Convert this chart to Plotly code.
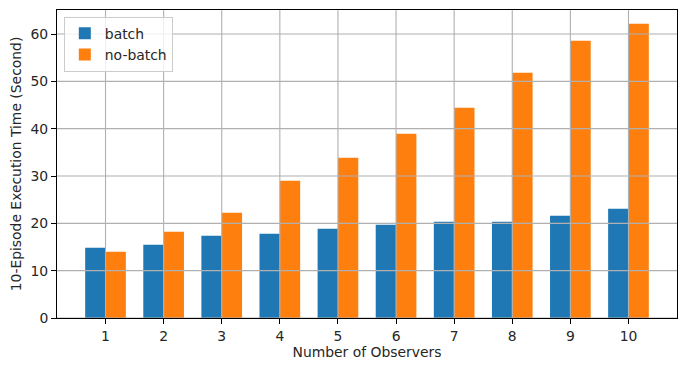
import plotly.graph_objects as go

observers = [1, 2, 3, 4, 5, 6, 7, 8, 9, 10]
batch = [14.86, 15.49, 17.39, 17.82, 18.87, 19.72, 20.35, 20.35, 21.62, 23.10]
no_batch = [14.01, 18.24, 22.25, 29.01, 33.87, 38.94, 44.44, 51.83, 58.59, 62.18]
y_ticks = [0, 10, 20, 30, 40, 50, 60]

font = dict(family="DejaVu Sans", size=13.9, color="#262626")

fig = go.Figure()
fig.add_trace(go.Bar(x=observers, y=batch, name="batch", marker=dict(color="#1f77b4", line_width=0)))
fig.add_trace(go.Bar(x=observers, y=no_batch, name="no-batch", marker=dict(color="#ff7f0e", line_width=0)))

grid = dict(color="#b0b0b0", width=1.1)
for v in y_ticks:
    fig.add_hline(y=v, line=grid, layer="above")
for v in observers:
    fig.add_vline(x=v, line=grid, layer="above")

# page body has an 8px default margin, so the figure is 8px smaller and margins shifted
fig.update_layout(
    width=678, height=363,
    margin=dict(l=49, r=9, t=2, b=53, autoexpand=False),
    paper_bgcolor="white", plot_bgcolor="white",
    font=font,
    barmode="group", bargap=0.3, bargroupgap=0,
    showlegend=True,
    legend=dict(x=0.011, y=0.978, xanchor="left", yanchor="top",
                bgcolor="rgba(255,255,255,0.8)", bordercolor="#cccccc", borderwidth=1,
                font=dict(family="DejaVu Sans", size=13.9, color="#262626"),
                tracegroupgap=0, itemwidth=30),
)
fig.update_xaxes(range=[0.165, 10.835], tickvals=observers, ticktext=[str(o) for o in observers],
                 showgrid=False, zeroline=False, showline=True, mirror=True, linecolor="black", linewidth=1,
                 ticks="outside", ticklen=5, tickcolor="black", automargin=False,
                 title=dict(text="Number of Observers", standoff=4, font=font))
fig.update_yaxes(range=[0, 65.07], tickvals=y_ticks, showgrid=False, zeroline=False,
                 showline=True, mirror=True, linecolor="black", linewidth=1,
                 ticks="outside", ticklen=5, tickcolor="black", automargin=False,
                 title=dict(text="10-Episode Execution Time (Second)", standoff=6, font=font))

fig.write_html("out.html")
